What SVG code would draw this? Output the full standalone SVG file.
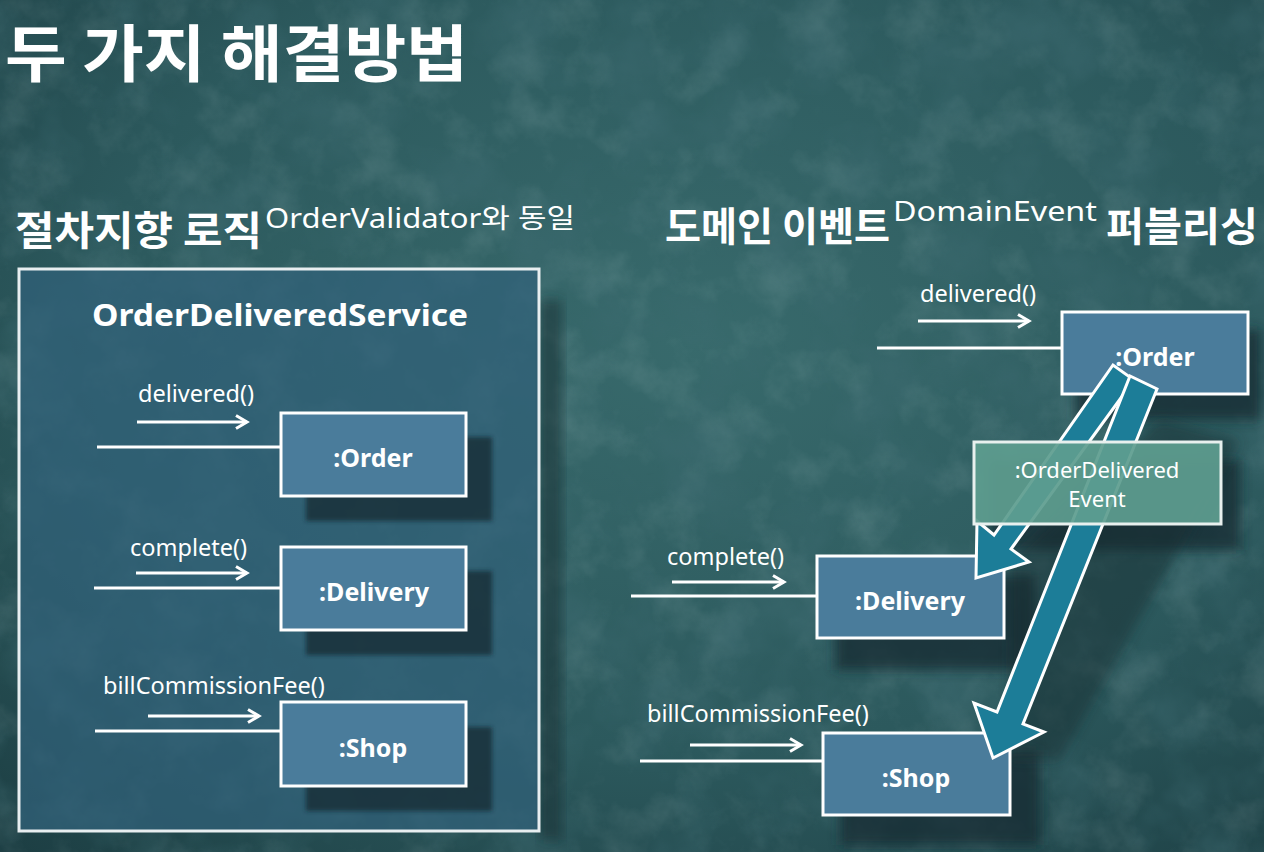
<svg xmlns="http://www.w3.org/2000/svg" width="1264" height="852" viewBox="0 0 1264 852">
<defs>
<style>
.ttl{font-family:"Noto Sans CJK KR","Noto Sans",sans-serif;font-weight:bold;fill:#fff}
.sup{font-family:"Noto Sans","Noto Sans CJK KR",sans-serif;fill:#fff}
.lbl{font-family:"Noto Sans","Open Sans",sans-serif;font-size:23.5px;fill:#fff}
.nlab{font-family:"Noto Sans","Open Sans",sans-serif;font-size:25px;font-weight:bold;fill:#fff;text-anchor:middle}
.node{fill:#4a7c9b;stroke:#fff;stroke-width:3}
.shadow{fill:#162c31;opacity:0.75}
.wire{stroke:#fff;stroke-width:3;fill:none}
.big{fill:#1c7d98;stroke:#fff;stroke-width:3;stroke-linejoin:miter}
.evt{font-family:"Noto Sans","Open Sans",sans-serif;font-size:22px;fill:#fff;text-anchor:middle}
</style>
<radialGradient id="bg" cx="0.55" cy="0.4" r="0.8">
<stop offset="0" stop-color="#386a6c"/>
<stop offset="0.6" stop-color="#2c595d"/>
<stop offset="1" stop-color="#1d3f44"/>
</radialGradient>
<filter id="noise" x="0" y="0" width="100%" height="100%">
<feTurbulence type="fractalNoise" baseFrequency="0.02" numOctaves="5" seed="7" result="n"/>
<feColorMatrix in="n" type="matrix" values="0 0 0 0 0.7  0 0 0 0 0.85  0 0 0 0 0.85  1.6 0 0 0 -0.75"/>
</filter>
<filter id="noise2" x="0" y="0" width="100%" height="100%">
<feTurbulence type="fractalNoise" baseFrequency="0.012" numOctaves="4" seed="21" result="n"/>
<feColorMatrix in="n" type="matrix" values="0 0 0 0 0.05  0 0 0 0 0.15  0 0 0 0 0.17  1.8 0 0 0 -0.8"/>
</filter>
<filter id="blur" x="-20%" y="-20%" width="140%" height="140%">
<feGaussianBlur stdDeviation="6"/>
</filter>
<filter id="blur2" x="-20%" y="-20%" width="140%" height="140%">
<feGaussianBlur stdDeviation="2"/>
</filter>
<marker id="ah" viewBox="0 0 16 16" refX="13" refY="8" markerWidth="16" markerHeight="16" markerUnits="userSpaceOnUse" orient="auto">
<path d="M2,1.5 L13,8 L2,14.5" fill="none" stroke="#fff" stroke-width="3"/>
</marker>
</defs>

<rect width="1264" height="852" fill="url(#bg)"/>
<rect width="1264" height="852" filter="url(#noise)" opacity="0.18"/>
<rect width="1264" height="852" filter="url(#noise2)" opacity="0.7"/>

<g id="title">
<text class="ttl" x="5" y="77" font-size="62" textLength="463" lengthAdjust="spacingAndGlyphs">두 가지 해결방법</text>
</g>

<g id="heading-left">
<text class="ttl" x="15" y="245" font-size="40" textLength="247" lengthAdjust="spacingAndGlyphs">절차지향 로직</text>
<text class="sup" x="265" y="228" font-size="27" textLength="310" lengthAdjust="spacingAndGlyphs">OrderValidator와 동일</text>
</g>

<g id="heading-right">
<text class="ttl" x="665" y="241" font-size="40" textLength="225" lengthAdjust="spacingAndGlyphs">도메인 이벤트</text>
<text class="sup" x="893" y="221" font-size="28" textLength="204" lengthAdjust="spacingAndGlyphs">DomainEvent</text>
<text class="ttl" x="1106" y="241" font-size="40" textLength="152" lengthAdjust="spacingAndGlyphs">퍼블리싱</text>
</g>

<g id="OrderDeliveredService">
<rect x="540" y="300" width="22" height="540" fill="#142a2f" opacity="0.5" filter="url(#blur)"/>
<rect x="19" y="269" width="520" height="562" fill="#30617a" fill-opacity="0.72" stroke="#e8eef0" stroke-width="3"/>
<text x="280" y="326" font-family="Noto Sans, Open Sans, sans-serif" font-size="30" font-weight="bold" fill="#fff" text-anchor="middle" textLength="376" lengthAdjust="spacingAndGlyphs">OrderDeliveredService</text>
</g>

<g id="shadows">
<rect class="shadow" x="306" y="437" width="186" height="84" filter="url(#blur2)"/>
<rect class="shadow" x="306" y="571" width="186" height="84" filter="url(#blur2)"/>
<rect class="shadow" x="306" y="727" width="186" height="84" filter="url(#blur2)"/>
<rect class="shadow" x="1075" y="330" width="186" height="90" filter="url(#blur)"/>
<rect class="shadow" x="835" y="575" width="200" height="95" filter="url(#blur)"/>
<rect class="shadow" x="840" y="750" width="200" height="95" filter="url(#blur)"/>
<rect class="shadow" x="990" y="460" width="250" height="90" filter="url(#blur)"/>
<path d="M1010,560 L1160,420 L1240,440 L1060,760 L1010,760 Z" fill="#122a2e" opacity="0.45" filter="url(#blur)"/>
</g>

<g id="left-order">
<rect class="node" x="281" y="413" width="185" height="83"/>
<text class="nlab" x="373" y="467">:Order</text>
</g>
<g id="left-delivery">
<rect class="node" x="281" y="547" width="185" height="83"/>
<text class="nlab" x="374" y="601">:Delivery</text>
</g>
<g id="left-shop">
<rect class="node" x="281" y="702" width="185" height="84"/>
<text class="nlab" x="373" y="757">:Shop</text>
</g>

<g id="right-order">
<rect class="node" x="1062" y="312" width="186" height="82"/>
<text class="nlab" x="1155" y="366">:Order</text>
</g>
<g id="right-delivery">
<rect class="node" x="817" y="556" width="187" height="82"/>
<text class="nlab" x="910" y="610">:Delivery</text>
</g>
<g id="right-shop">
<rect class="node" x="823" y="733" width="187" height="82"/>
<text class="nlab" x="916" y="787">:Shop</text>
</g>

<g id="connectors">
<text class="lbl" x="138" y="402">delivered()</text>
<line class="wire" x1="137" y1="422" x2="247" y2="422" marker-end="url(#ah)"/>
<line class="wire" x1="97" y1="447" x2="281" y2="447"/>

<text class="lbl" x="130" y="556">complete()</text>
<line class="wire" x1="136" y1="573" x2="247" y2="573" marker-end="url(#ah)"/>
<line class="wire" x1="94" y1="588" x2="281" y2="588"/>

<text class="lbl" x="103" y="694">billCommissionFee()</text>
<line class="wire" x1="148" y1="716" x2="259" y2="716" marker-end="url(#ah)"/>
<line class="wire" x1="95" y1="731" x2="281" y2="731"/>

<text class="lbl" x="920" y="302">delivered()</text>
<line class="wire" x1="918" y1="321" x2="1029" y2="321" marker-end="url(#ah)"/>
<line class="wire" x1="877" y1="348" x2="1062" y2="348"/>

<text class="lbl" x="667" y="565">complete()</text>
<line class="wire" x1="672" y1="582" x2="784" y2="582" marker-end="url(#ah)"/>
<line class="wire" x1="631" y1="596" x2="817" y2="596"/>

<text class="lbl" x="647" y="722">billCommissionFee()</text>
<line class="wire" x1="690" y1="745" x2="801" y2="745" marker-end="url(#ah)"/>
<line class="wire" x1="640" y1="761" x2="823" y2="761"/>

<polygon id="event-to-delivery" class="big" points="1134,380 1011,549 1029,562 976,578 977,521 994,535 1113,365"/>
<polygon id="event-to-shop" class="big" points="1157,389 1023,724 1044,732 993,758 974,703 997,712 1130,376"/>
</g>

<g id="event">
<rect x="974" y="442" width="247" height="82" fill="#5e9d8f" fill-opacity="0.93" stroke="#e8f0ee" stroke-width="3"/>
<text class="evt" x="1097" y="478">:OrderDelivered</text>
<text class="evt" x="1097" y="507">Event</text>
</g>
</svg>
